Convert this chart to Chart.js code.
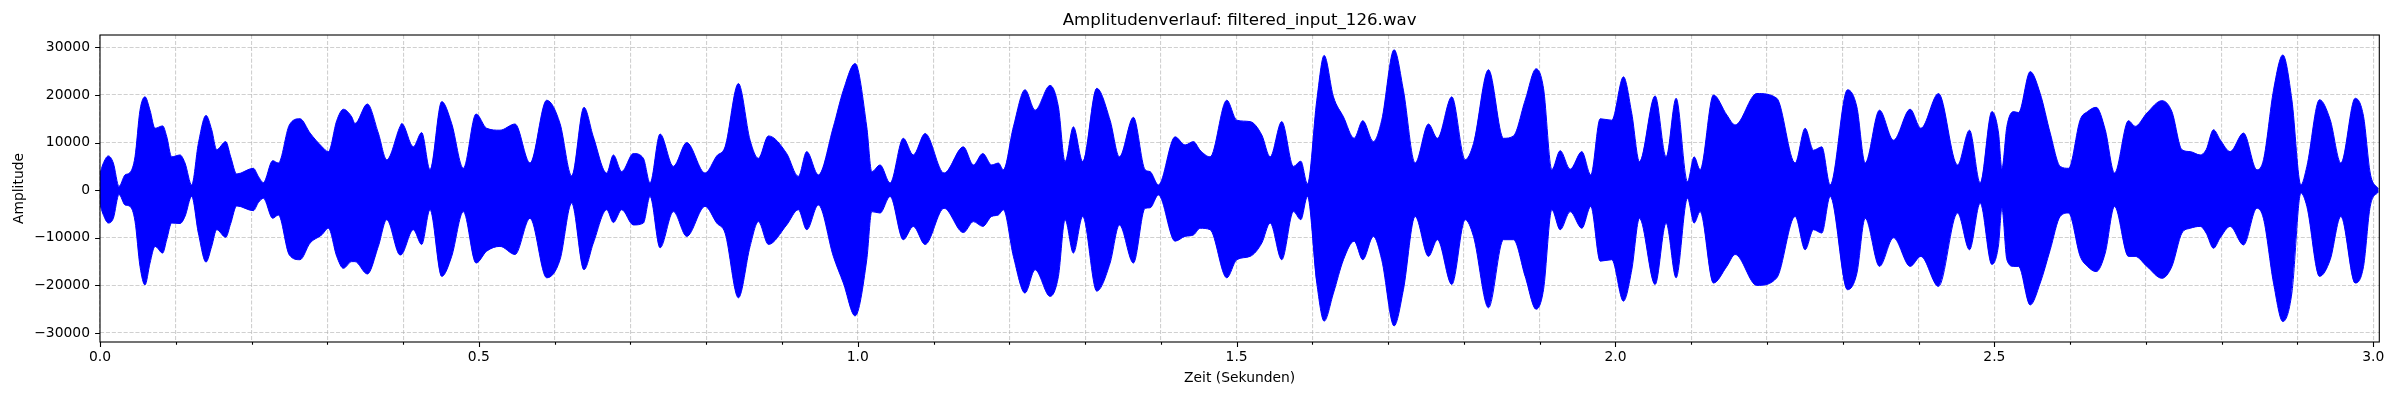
<!DOCTYPE html>
<html>
<head>
<meta charset="utf-8">
<title>Amplitudenverlauf</title>
<script src="https://cdn.jsdelivr.net/npm/chart.js@4.4.1/dist/chart.umd.min.js"></script>
<style>
	body { margin: 0; background: #fff; }
	#wrap { width: 2400px; height: 400px; }
</style>
</head>
<body>
<div id="wrap"><canvas id="myChart" width="2400" height="400"></canvas></div>
<script>
// envelope of the waveform (seconds / amplitude)
const times = [
	0.0, 0.004, 0.011, 0.0176, 0.0251, 0.033, 0.0396, 0.0462, 0.0528, 0.0594,
	0.066, 0.0726, 0.0827, 0.088, 0.0946, 0.1056, 0.1122, 0.121, 0.1298, 0.1399,
	0.1474, 0.154, 0.1659, 0.1725, 0.1804, 0.2024, 0.209, 0.2156, 0.2279, 0.2354,
	0.2499, 0.264, 0.2772, 0.2926, 0.3014, 0.3124, 0.3212, 0.3322, 0.3365, 0.3528,
	0.3673, 0.3784, 0.396, 0.3982, 0.4135, 0.4245, 0.4355, 0.451, 0.4641, 0.4795,
	0.4963, 0.5103, 0.5279, 0.5477, 0.5675, 0.5895, 0.6071, 0.6225, 0.6387, 0.6511,
	0.6687, 0.6775, 0.6885, 0.7039, 0.7171, 0.7259, 0.7391, 0.7567, 0.7743, 0.7985,
	0.8139, 0.8249, 0.8425, 0.8579, 0.8689, 0.8821, 0.9062, 0.9216, 0.9327, 0.948,
	0.9678, 0.981, 0.9965, 1.0119, 1.0185, 1.0295, 1.0427, 1.0601, 1.0733, 1.0889,
	1.1139, 1.1394, 1.1526, 1.165, 1.1768, 1.1856, 1.1922, 1.2054, 1.2208, 1.234,
	1.2538, 1.2648, 1.2736, 1.2846, 1.2969, 1.3154, 1.333, 1.3453, 1.3638, 1.3792,
	1.3858, 1.3968, 1.4188, 1.432, 1.443, 1.4518, 1.465, 1.487, 1.5002, 1.5178,
	1.5332, 1.5442, 1.5596, 1.575, 1.5847, 1.5935, 1.6058, 1.6155, 1.6278, 1.641,
	1.6551, 1.6665, 1.6805, 1.6915, 1.7078, 1.7201, 1.7356, 1.7532, 1.765, 1.784,
	1.8016, 1.8126, 1.8324, 1.8522, 1.8654, 1.8808, 1.8953, 1.905, 1.916, 1.927,
	1.9402, 1.9556, 1.9674, 1.9798, 1.9951, 2.0105, 2.0215, 2.0316, 2.0523, 2.0668,
	2.08, 2.095, 2.1038, 2.1117, 2.1293, 2.1469, 2.1579, 2.1865, 2.2129, 2.2371,
	2.2503, 2.2613, 2.2723, 2.2833, 2.3062, 2.3185, 2.3295, 2.3484, 2.3669, 2.3889,
	2.403, 2.4263, 2.4514, 2.4672, 2.4813, 2.4967, 2.5055, 2.5099, 2.5165, 2.5253,
	2.5319, 2.5473, 2.5605, 2.5737, 2.5869, 2.5979, 2.6133, 2.6229, 2.6344, 2.6463,
	2.6586, 2.677, 2.6858, 2.7013, 2.7211, 2.7343, 2.7475, 2.7584, 2.7716, 2.7795,
	2.7892, 2.798, 2.8112, 2.8288, 2.8464, 2.8552, 2.8684, 2.8807, 2.8926, 2.9045,
	2.9124, 2.9291, 2.9432, 2.9573, 2.9762, 2.9872, 2.996, 3.007
];

const upper = [
	3500, 5500, 7200, 5700, 800, 3200, 3700, 7000, 16800, 19600,
	16800, 13000, 13500, 11300, 7000, 7400, 5700, 1100, 9800, 15700,
	12700, 8500, 10200, 7000, 3400, 4600, 2900, 1600, 6200, 5700,
	13700, 15000, 12000, 9200, 8100, 14600, 17000, 15400, 14000, 18100,
	12000, 6400, 13400, 14000, 9100, 12100, 4300, 18600, 14000, 4600,
	16000, 13000, 12600, 13900, 5700, 18900, 14000, 3000, 17400, 11200,
	3600, 7400, 3900, 7700, 6700, 1500, 11800, 5000, 10000, 3600,
	7200, 9100, 22400, 10500, 6700, 11400, 7700, 2900, 8100, 3200,
	13300, 21000, 26600, 13300, 3900, 5300, 1500, 10900, 7400, 11900,
	3600, 9100, 5300, 7700, 5300, 5700, 4300, 13300, 21100, 16800,
	22000, 17500, 6000, 13300, 6000, 21400, 14700, 7000, 15300, 4300,
	3900, 1100, 11200, 9500, 10200, 8400, 7000, 18900, 14700, 14400,
	11600, 7000, 14400, 5000, 6100, 1300, 18900, 28300, 19600, 15400,
	10900, 14600, 10200, 14700, 29500, 21000, 5700, 13900, 10900, 19600,
	6400, 9800, 25300, 10900, 11400, 18900, 25500, 21400, 4300, 8300,
	4400, 8100, 3200, 15000, 14700, 23800, 16100, 6000, 19800, 7000,
	19300, 1800, 7000, 4300, 20000, 15800, 13700, 20300, 19300, 5700,
	13000, 8400, 9100, 1100, 21100, 17500, 5700, 16800, 10500, 17000,
	13000, 20300, 5300, 12600, 1500, 16500, 12000, 4500, 13400, 16500,
	16300, 24900, 20300, 12000, 5000, 4600, 14800, 16500, 17400, 12700,
	3600, 14600, 13400, 16200, 18800, 16500, 8500, 8100, 7400, 8500,
	12700, 10600, 8100, 12000, 4300, 6400, 21000, 28400, 19000, 1100,
	5000, 19000, 14800, 5700, 19300, 15500, 3600, 200
];

const lower = [
	-3000, -5000, -6900, -5900, -900, -3100, -3400, -6500, -16000, -19900,
	-15300, -11800, -13200, -10400, -6900, -7000, -5500, -1300, -9000, -15100,
	-11800, -8300, -9900, -7000, -3300, -4300, -2600, -1700, -5900, -5200,
	-13600, -14600, -11100, -9400, -8000, -13900, -16400, -15000, -15000, -17600,
	-11800, -6200, -13600, -13500, -8300, -11400, -4100, -18100, -13900, -4500,
	-15300, -12800, -11800, -13500, -5900, -18400, -14600, -2700, -16700, -11100,
	-4100, -6800, -4100, -7300, -6900, -1300, -12100, -4500, -9700, -3400,
	-6900, -9000, -22600, -11800, -6600, -11400, -7300, -4100, -8300, -3100,
	-13900, -19500, -26400, -14600, -4500, -4800, -1300, -10400, -7600, -11400,
	-3800, -8900, -6600, -7600, -5500, -5200, -4100, -13900, -21600, -16700,
	-22300, -18100, -6200, -13200, -5500, -21200, -15300, -7300, -15300, -3800,
	-3700, -1000, -10700, -9700, -9400, -8000, -8300, -18400, -14600, -13900,
	-11100, -6900, -14600, -4500, -6200, -1300, -19500, -27500, -21600, -14600,
	-10700, -14600, -9700, -14600, -28500, -20900, -5500, -13900, -10400, -19800,
	-6200, -9700, -24700, -10400, -10400, -18100, -25000, -20900, -4100, -8300,
	-4500, -8000, -3400, -14900, -14600, -23300, -16700, -5900, -19800, -6900,
	-18400, -1700, -6900, -4500, -19500, -16000, -13500, -20000, -18400, -5500,
	-12500, -8300, -9000, -1300, -20900, -17500, -5900, -16000, -10000, -16000,
	-13900, -20200, -4800, -12500, -2700, -15600, -11500, -3800, -14600, -16000,
	-16000, -24100, -19500, -12500, -5500, -4800, -13900, -16000, -17100, -13200,
	-3400, -13900, -13900, -16000, -18500, -16000, -9000, -8000, -7600, -9000,
	-12200, -10000, -7600, -11500, -3800, -6000, -19500, -27600, -21600, -600,
	-3400, -18100, -14600, -5500, -19500, -16000, -3400, -300
];

const yTicks = [-30000, -20000, -10000, 0, 10000, 20000, 30000];
const xMajorTicks = [0.0, 0.5, 1.0, 1.5, 2.0, 2.5, 3.0];
const xMinorTicks = [
	0.1, 0.2, 0.3, 0.4, 0.6, 0.7, 0.8, 0.9, 1.1, 1.2, 1.3, 1.4,
	1.6, 1.7, 1.8, 1.9, 2.1, 2.2, 2.3, 2.4, 2.6, 2.7, 2.8, 2.9
];

const FONT = "'DejaVu Sans', 'Liberation Sans', sans-serif";
const gridColor = 'rgba(176,176,176,0.6)';

function isMajor(v) {
	return xMajorTicks.some(m => Math.abs(m - v) < 1e-6);
}

// frame round the plot and the little tick marks, matplotlib style
const framePlugin = {
	id: 'frame',
	afterDraw(chart) {
		const ctx = chart.ctx;
		const a = chart.chartArea;
		const xs = chart.scales.x;
		const ys = chart.scales.y;
		ctx.save();
		ctx.strokeStyle = '#000';
		ctx.lineWidth = 1.1;
		ctx.beginPath();
		xs.ticks.forEach(t => {
			const px = Math.round(xs.getPixelForValue(t.value)) + 0.5;
			const len = isMajor(t.value) ? 4.9 : 2.8;
			ctx.moveTo(px, a.bottom);
			ctx.lineTo(px, a.bottom + len);
		});
		ys.ticks.forEach(t => {
			const py = Math.round(ys.getPixelForValue(t.value)) + 0.5;
			ctx.moveTo(a.left, py);
			ctx.lineTo(a.left - 4.9, py);
		});
		ctx.stroke();
		ctx.strokeRect(a.left, a.top, a.right - a.left, a.bottom - a.top);
		ctx.restore();
	}
};

const data = {
	datasets: [
		{
			label: 'oben',
			data: times.map((t, i) => ({ x: t, y: upper[i] })),
			borderColor: '#0000ff',
			backgroundColor: '#0000ff',
			borderWidth: 1,
			pointRadius: 0,
			cubicInterpolationMode: 'monotone',
			fill: '+1',
		},
		{
			label: 'unten',
			data: times.map((t, i) => ({ x: t, y: lower[i] })),
			borderColor: '#0000ff',
			backgroundColor: '#0000ff',
			borderWidth: 1,
			pointRadius: 0,
			cubicInterpolationMode: 'monotone',
			fill: false,
		},
	],
};

const config = {
	type: 'line',
	data: data,
	options: {
		responsive: false,
		animation: false,
		devicePixelRatio: 1,
		layout: { padding: { left: 0, right: 20.7, top: 0, bottom: 0 } },
		plugins: {
			legend: { display: false },
			tooltip: { enabled: false },
			title: {
				display: true,
				text: 'Amplitudenverlauf: filtered_input_126.wav',
				fullSize: false,
				color: '#000',
				font: { family: FONT, size: 16.67, weight: 'normal', lineHeight: 1.2 },
				padding: { top: 11, bottom: 4 },
			},
		},
		scales: {
			x: {
				type: 'linear',
				min: 0,
				max: 3.008,
				afterFit: axis => { axis.height = 58; },
				afterBuildTicks: axis => {
					axis.ticks = xMajorTicks.concat(xMinorTicks).sort((a, b) => a - b).map(v => ({ value: v }));
				},
				// in v4 border.dash sets the dash of the grid lines
				border: { display: false, dash: [4.1, 1.8] },
				grid: {
					drawTicks: false,
					color: gridColor,
					lineWidth: 1.1,
				},
				ticks: {
					autoSkip: false,
					maxRotation: 0,
					padding: 6.7,
					color: '#000',
					font: { family: FONT, size: 13.89 },
					callback: v => (isMajor(v) ? v.toFixed(1) : ''),
				},
				title: {
					display: true,
					text: 'Zeit (Sekunden)',
					color: '#000',
					font: { family: FONT, size: 13.89 },
					padding: { top: 0, bottom: 13.7 },
				},
			},
			y: {
				type: 'linear',
				min: -31880,
				max: 32590,
				afterFit: axis => { axis.width = 100; },
				afterBuildTicks: axis => {
					axis.ticks = yTicks.map(v => ({ value: v }));
				},
				border: { display: false, dash: [4.1, 1.8] },
				grid: {
					drawTicks: false,
					color: gridColor,
					lineWidth: 1.1,
				},
				ticks: {
					padding: 10,
					color: '#000',
					font: { family: FONT, size: 13.89 },
					callback: v => (v < 0 ? '\u2212' + Math.abs(v) : String(v)),
				},
				title: {
					display: true,
					text: 'Amplitude',
					color: '#000',
					font: { family: FONT, size: 13.89 },
					padding: { top: 11, bottom: 0 },
				},
			},
		},
	},
	plugins: [framePlugin],
};

const myChart = new Chart(document.getElementById('myChart'), config);
</script>
</body>
</html>
